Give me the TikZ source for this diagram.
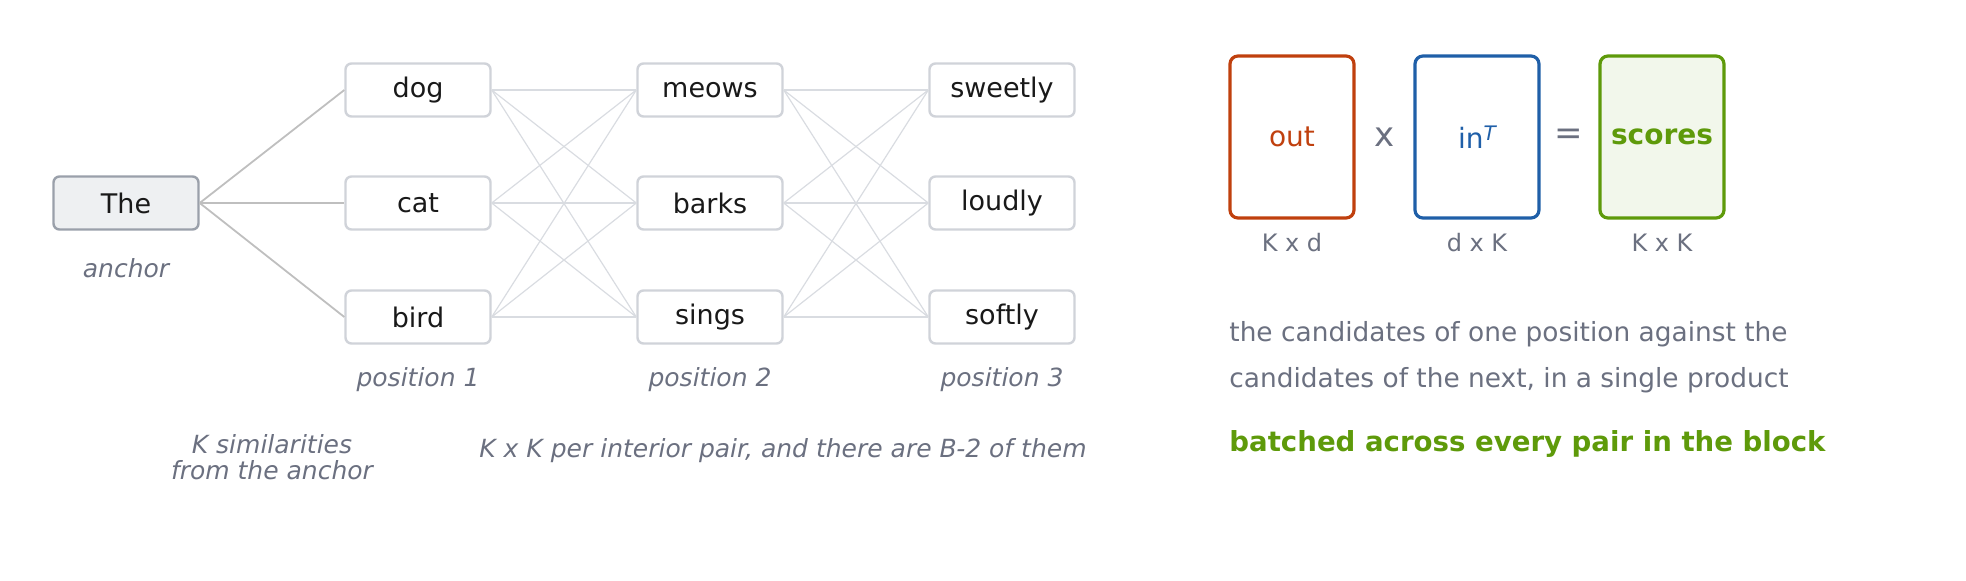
\documentclass[tikz,border=0pt]{standalone}
\usepackage{fontspec}
\setmainfont{DejaVu Sans}
\definecolor{txt}{HTML}{6B7080}
\definecolor{bd}{HTML}{D0D3D9}
\definecolor{thb}{HTML}{9AA0AA}
\definecolor{thf}{HTML}{EEF0F2}
\definecolor{org}{HTML}{C0400E}
\definecolor{blu}{HTML}{1F5FA8}
\definecolor{grn}{HTML}{5E9A0A}
\begin{document}
\begin{tikzpicture}[x=0.5pt,y=-0.5pt,
 word/.style={draw=bd,line width=1.2pt,rounded corners=3pt,minimum width=72.5pt,minimum height=26.5pt,inner sep=0pt,font=\fontsize{13.5}{15}\selectfont,text=black!90},
 lab/.style={font=\itshape\fontsize{12.5}{14}\selectfont,text=txt},
 mesh/.style={draw=bd!80,line width=0.6pt},
 big/.style={draw,line width=1.6pt,rounded corners=4pt,minimum width=62pt,minimum height=81pt,inner sep=0pt,font=\fontsize{14}{16}\selectfont},
 small/.style={font=\fontsize{12}{14}\selectfont,text=txt}]
\useasboundingbox (0,0) rectangle (1966,580);
\node[word,fill=thf,draw=thb] (the) at (126,203) {The};
\foreach \n/\x/\y in {dog/418/90,cat/418/203,bird/418/317,meows/710/90,barks/710/203,sings/710/317,sweetly/1002/90,loudly/1002/203,softly/1002/317}
  \node[word] (\n) at (\x,\y) {\n};
\foreach \b in {dog,cat,bird} \draw[draw=gray!50,line width=0.9pt] (the.east) -- (\b.west);
\foreach \a in {dog,cat,bird} \foreach \b in {meows,barks,sings} \draw[mesh] (\a.east) -- (\b.west);
\foreach \a in {meows,barks,sings} \foreach \b in {sweetly,loudly,softly} \draw[mesh] (\a.east) -- (\b.west);
\node[lab] (an) at (126,268) {anchor};
\node[lab] (p1) at (418,380) {position 1};
\node[lab] (p2) at (710,380) {position 2};
\node[lab] (p3) at (1002,380) {position 3};
\node[lab,align=center] (ks) at (272,457) {K similarities\\[-1pt]from the anchor};
\node[lab] (kk) at (783,451) {K x K per interior pair, and there are B-2 of them};
\node[big,draw=org,text=org] (out) at (1292,137) {out};
\node[big,draw=blu,text=blu] (in) at (1477,137) {in\raisebox{0.5ex}{\fontsize{10}{12}\selectfont\itshape T}};
\node[big,draw=grn,fill=grn!8,text=grn,font=\bfseries\fontsize{14}{16}\selectfont] (sc) at (1662,137) {scores};
\node[text=txt,font=\fontsize{17}{18}\selectfont] (x) at (1385,137) {x};
\node[text=txt,font=\fontsize{17}{18}\selectfont] (eq) at (1569,137) {=};
\node[small] (l1) at (1292,243) {K x d};
\node[small] (l2) at (1477,243) {d x K};
\node[small] (l3) at (1662,243) {K x K};
\node[anchor=west,text=txt,font=\fontsize{13.2}{15}\selectfont,inner sep=0pt] (t1) at (1229,334) {the candidates of one position against the};
\node[anchor=west,text=grn,font=\bfseries\fontsize{13.8}{15}\selectfont,inner sep=0pt] (t3) at (1229,444) {batched across every pair in the block};
\node[anchor=west,text=txt,font=\fontsize{13.2}{15}\selectfont,inner sep=0pt] (t2) at (1229,380) {candidates of the next, in a single product};
\end{tikzpicture}
\end{document}
